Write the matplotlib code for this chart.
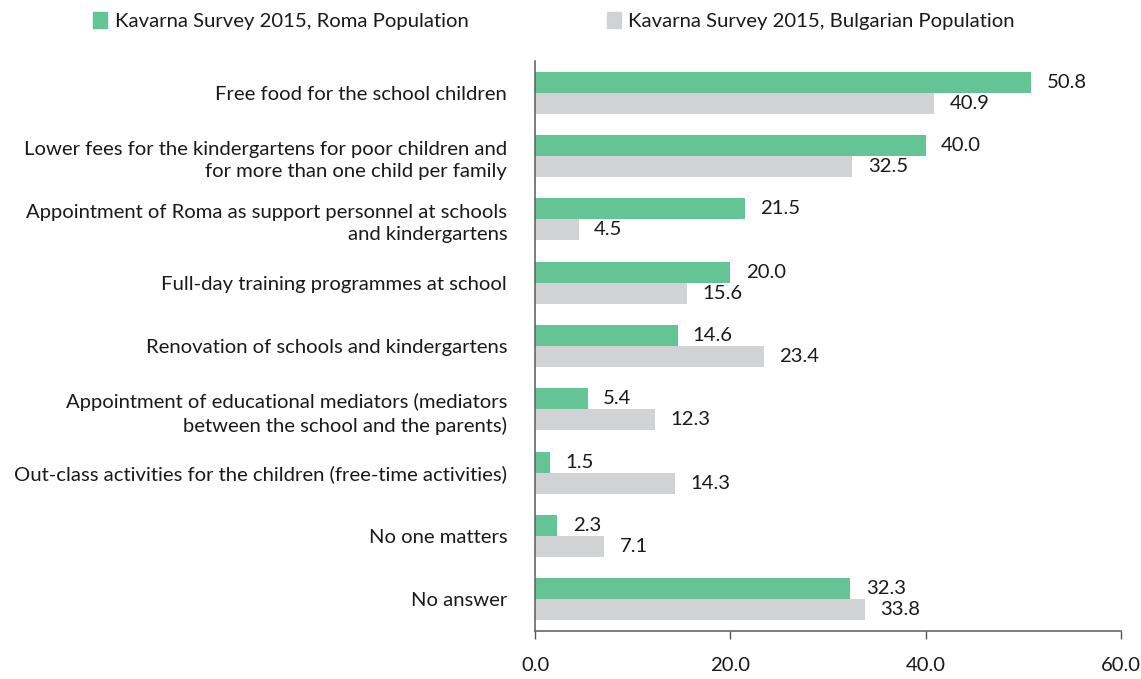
import matplotlib
matplotlib.use("Agg")
import matplotlib.pyplot as plt
from matplotlib.patches import Rectangle

categories = [
    "Free food for the school children",
    "Lower fees for the kindergartens for poor children and\nfor more than one child per family",
    "Appointment of Roma as support personnel at schools\nand kindergartens",
    "Full-day training programmes at school",
    "Renovation of schools and kindergartens",
    "Appointment of educational mediators (mediators\nbetween the school and the parents)",
    "Out-class activities for the children (free-time activities)",
    "No one matters",
    "No answer",
]
roma = [50.8, 40.0, 21.5, 20.0, 14.6, 5.4, 1.5, 2.3, 32.3]
bulgarian = [40.9, 32.5, 4.5, 15.6, 23.4, 12.3, 14.3, 7.1, 33.8]
series_names = ["Kavarna Survey 2015, Roma Population",
                "Kavarna Survey 2015, Bulgarian Population"]
xticks = [0, 20, 40, 60]

plt.rcParams['font.family'] = ['Lato', 'DejaVu Sans']
GREEN = "#64C493"
GREY = "#D1D2D4"
TXT = "#1a1a1a"
FS = 14.6

fig = plt.figure(figsize=(11.41, 6.79), dpi=100)
ax = fig.add_axes([535/1141, 1-631/679, (1121-535)/1141, (631-61)/679])

h = 0.332
ys = list(range(len(categories)))
ax.barh([y - h/2 for y in ys], roma, height=h, color=GREEN, align='center')
ax.barh([y + h/2 for y in ys], bulgarian, height=h, color=GREY, align='center')

for y, v in zip(ys, roma):
    ax.annotate(f"{v:.1f}", (v, y - h/2), xytext=(11, 0), textcoords='offset points',
                va='center', ha='left', fontsize=FS, color=TXT)
for y, v in zip(ys, bulgarian):
    ax.annotate(f"{v:.1f}", (v, y + h/2), xytext=(11, 0), textcoords='offset points',
                va='center', ha='left', fontsize=FS, color=TXT)

ax.set_ylim(8.5, -0.5)
ax.set_xlim(0, 60)
ax.set_yticks(ys)
ax.set_yticklabels(categories, fontsize=FS, color=TXT, ha='right', multialignment='right',
                   linespacing=1.4)
ax.tick_params(axis='y', length=0, pad=20)
ax.set_xticks(xticks)
ax.set_xticklabels([f"{t:.1f}" for t in xticks], fontsize=FS, color=TXT)
ax.tick_params(axis='x', length=6, width=1, color="#555555", pad=13)
for s in ['top', 'right']:
    ax.spines[s].set_visible(False)
for s in ['left', 'bottom']:
    ax.spines[s].set_color("#666666")
    ax.spines[s].set_linewidth(1.2)

# legend
fig.patches.append(Rectangle((93/1141, 1-28/679), 14/1141, 16/679, transform=fig.transFigure,
                             color=GREEN))
fig.text(115/1141, 1-21/679, series_names[0], fontsize=FS, va='center', ha='left', color=TXT)
fig.patches.append(Rectangle((607/1141, 1-28/679), 14/1141, 16/679, transform=fig.transFigure,
                             color=GREY))
fig.text(628/1141, 1-21/679, series_names[1], fontsize=FS, va='center', ha='left', color=TXT)

fig.savefig("out.png", dpi=100)
